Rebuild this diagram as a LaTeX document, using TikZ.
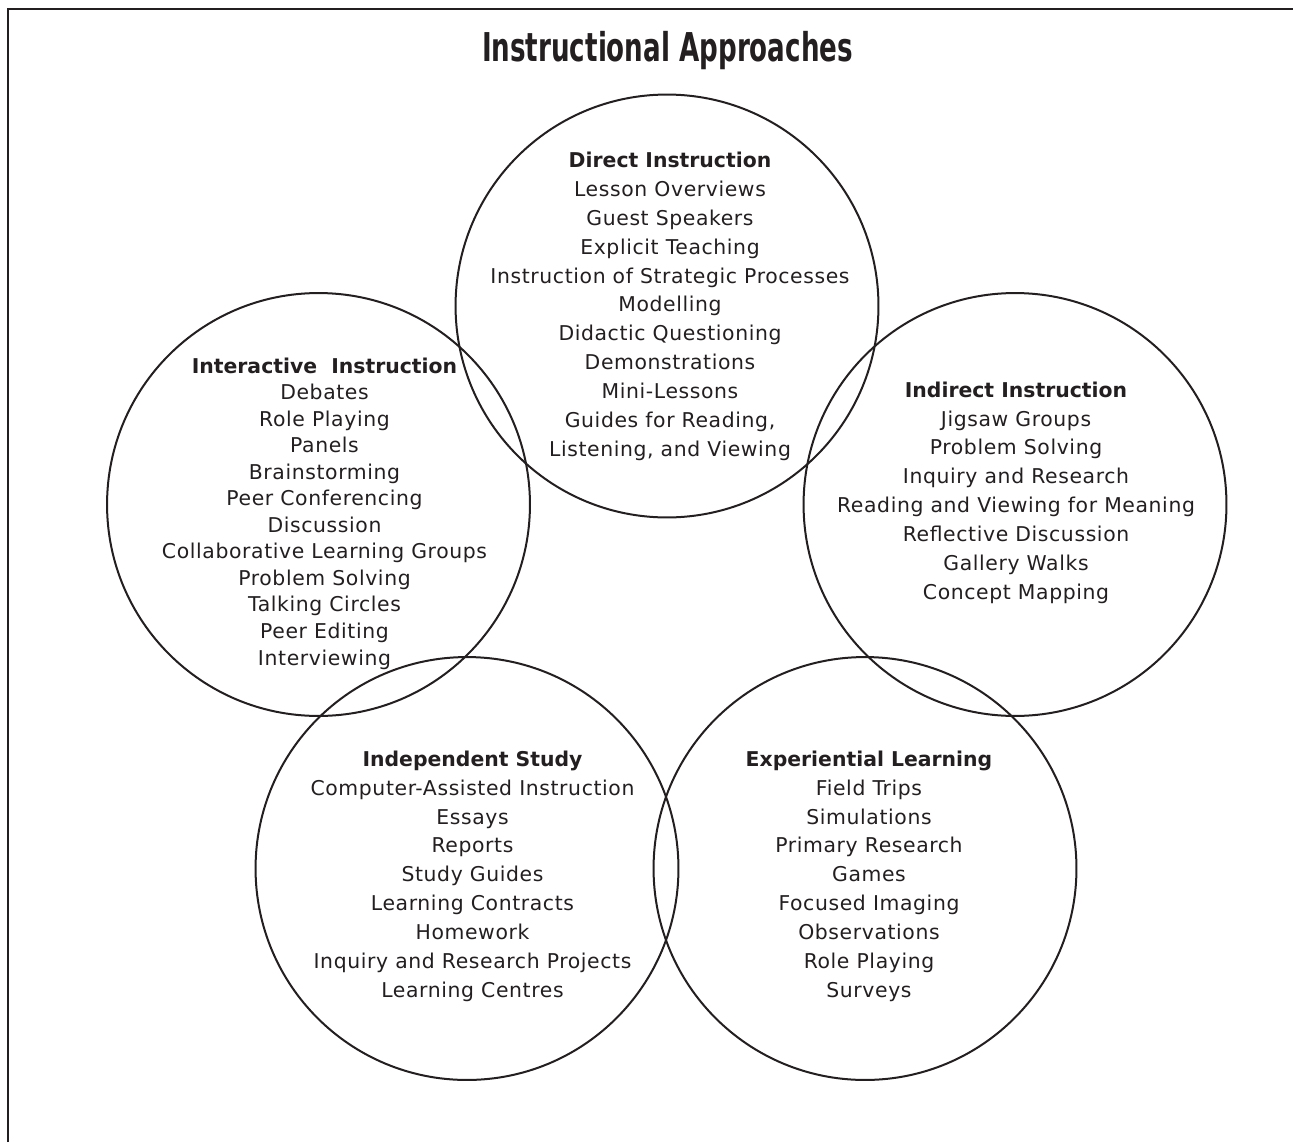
\documentclass[tikz,border=0pt]{standalone}
\usepackage{fontspec}
\setmainfont{DejaVu Sans}[LetterSpace=3, BoldFeatures={LetterSpace=0}]
\newfontfamily\titlefont{DejaVu Sans}
\usepackage{graphicx}
\usepackage{xcolor}
\usepackage{tikz}
\definecolor{ink}{RGB}{35, 31, 32}

\begin{document}
\begin{tikzpicture}[x=0.02cm, y=-0.02cm, ink,
            circ/.style={draw=ink, circle, line width=0.04cm, minimum size=8.46cm, inner sep=0pt},
            lst/.style={align=center, anchor=base, inner sep=0pt, text=ink,
                        font=\fontsize{11.6}{16.4}\selectfont},
            lsttight/.style={lst, font=\fontsize{11.6}{15.1}\selectfont},
            frame/.style={line width=0.05cm}]
  \useasboundingbox (0,0) rectangle (1293,1142);
  \draw[frame] (8,1142) -- (8,9) -- (1293,9);

  \node[font=\titlefont\fontsize{22.6}{26}\selectfont\bfseries, anchor=base, inner sep=0pt] (title)
    at (667.5,62) {\resizebox{7.42cm}{\height}{Instructional Approaches}};

  % the five circles
  \node[circ] (direct) at (667,306) {};
  \node[circ] (interactive) at (318.5,504.5) {};
  \node[circ] (indirect) at (1015,504.5) {};
  \node[circ] (independent) at (467,868.5) {};
  \node[circ] (experiential) at (865,868.5) {};

  % lists, placed by the baseline of their last line
  \node[lst] (directtxt) at (670,456) {\textbf{Direct Instruction}\\
    Lesson Overviews\\ Guest Speakers\\ Explicit Teaching\\
    Instruction of Strategic Processes\\ Modelling\\ Didactic Questioning\\
    Demonstrations\\ Mini-Lessons\\ Guides for Reading,\\ Listening, and Viewing};
  \node[lsttight] (interactivetxt) at (324.5,665) {\textbf{Interactive\ \ Instruction}\\
    Debates\\ Role Playing\\ Panels\\ Brainstorming\\ Peer Conferencing\\
    Discussion\\ Collaborative Learning Groups\\ Problem Solving\\
    Talking Circles\\ Peer Editing\\ Interviewing};
  \node[lst] (indirecttxt) at (1016,599) {\textbf{Indirect Instruction}\\
    Jigsaw Groups\\ Problem Solving\\ Inquiry and Research\\
    Reading and Viewing for Meaning\\ Reflective Discussion\\
    Gallery Walks\\ Concept Mapping};
  \node[lst] (independenttxt) at (472.5,997) {\textbf{Independent Study}\\
    Computer-Assisted Instruction\\ Essays\\ Reports\\ Study Guides\\
    Learning Contracts\\ Homework\\ Inquiry and Research Projects\\
    Learning Centres};
  \node[lst] (experientialtxt) at (869,997) {\textbf{Experiential Learning}\\
    Field Trips\\ Simulations\\ Primary Research\\ Games\\
    Focused Imaging\\ Observations\\ Role Playing\\ Surveys};
\end{tikzpicture}
\end{document}
